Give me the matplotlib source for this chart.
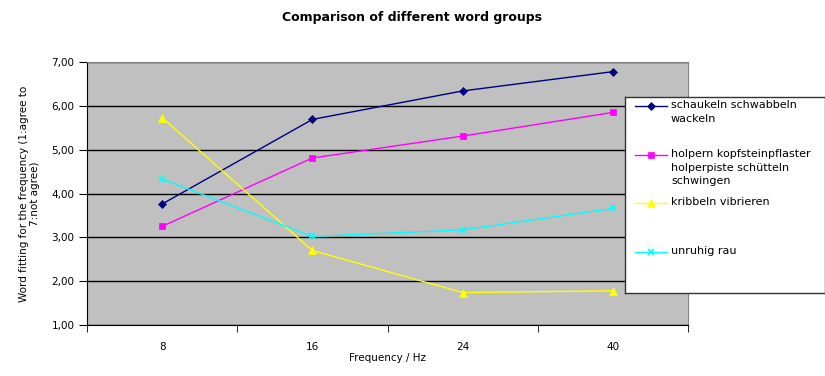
import matplotlib
matplotlib.use('Agg')
import matplotlib.pyplot as plt

# data
frequencies = ['8', '16', '24', '40']
schaukeln = [3.76, 5.69, 6.34, 6.78]
holpern = [3.25, 4.81, 5.31, 5.85]
kribbeln = [5.73, 2.70, 1.74, 1.78]
unruhig = [4.33, 3.02, 3.17, 3.66]

labels = ['schaukeln schwabbeln\nwackeln',
          'holpern kopfsteinpflaster\nholperpiste schütteln\nschwingen',
          'kribbeln vibrieren',
          'unruhig rau']
colors = ['#000080', '#FF00FF', '#FFFF00', '#00FFFF']
markers = ['D', 's', '^', 'x']
msizes = [4, 5, 6, 5]

plt.rcParams['font.family'] = ['DejaVu Sans']

W, H = 825, 376
fig = plt.figure(figsize=(W / 100, H / 100), dpi=100)
ax = fig.add_axes([87 / W, 1 - 325 / H, (688 - 87) / W, (325 - 62) / H])
ax.set_facecolor('#C0C0C0')

series = [schaukeln, holpern, kribbeln, unruhig]
x = list(range(len(frequencies)))
for vals, c, m, ms in zip(series, colors, markers, msizes):
    ax.plot(x, vals, color=c, marker=m, markersize=ms, linewidth=1,
            markeredgewidth=1.2 if m == 'x' else 0.5, zorder=3)

ax.set_xlim(-0.5, 3.5)
ax.set_ylim(1, 7)
ax.set_yticks([1, 2, 3, 4, 5, 6, 7])
ax.set_yticklabels([f'{v:.2f}'.replace('.', ',') for v in range(1, 8)], fontsize=7.5)
ax.yaxis.grid(True, color='black', linewidth=1)
ax.set_axisbelow(True)
ax.set_xticks(x)
ax.set_xticklabels(frequencies, fontsize=7.5)
ax.set_xticks([-0.5, 0.5, 1.5, 2.5, 3.5], minor=True)
ax.tick_params(axis='x', which='major', length=0, pad=12)
ax.tick_params(axis='x', which='minor', length=5, direction='out')
ax.tick_params(axis='y', length=6, direction='out', pad=3)
for s in ['top', 'right']:
    ax.spines[s].set_color('#808080')

ax.set_xlabel('Frequency / Hz', fontsize=7.5, labelpad=1)
ax.set_ylabel('Word fitting for the frequency (1:agree to\n7:not agree)', fontsize=7.5, labelpad=8)
fig.text(0.5, 1 - 17 / H, 'Comparison of different word groups', ha='center', va='center',
         fontsize=9, fontweight='bold')

# legend box overlapping the plot area, drawn by hand to mimic the spacing
lax = fig.add_axes([625 / W, 1 - 293 / H, 200 / W, (293 - 97) / H])
lax.set_xlim(0, 200)
lax.set_ylim(196, 0)
lax.set_xticks([])
lax.set_yticks([])
lax.set_facecolor('white')
for s in lax.spines.values():
    s.set_color('#333333')
    s.set_linewidth(1)
rows = [9, 58, 106, 155]
for lab, c, m, ms, yy in zip(labels, colors, markers, msizes, rows):
    lax.plot([10, 42], [yy, yy], color=c, linewidth=1)
    lax.plot([26], [yy], color=c, marker=m, markersize=ms,
             markeredgewidth=1.2 if m == 'x' else 0.5)
    lax.text(46, yy - 6, lab, fontsize=8, va='top', ha='left', linespacing=1.45)

fig.savefig('out.png', dpi=100)
